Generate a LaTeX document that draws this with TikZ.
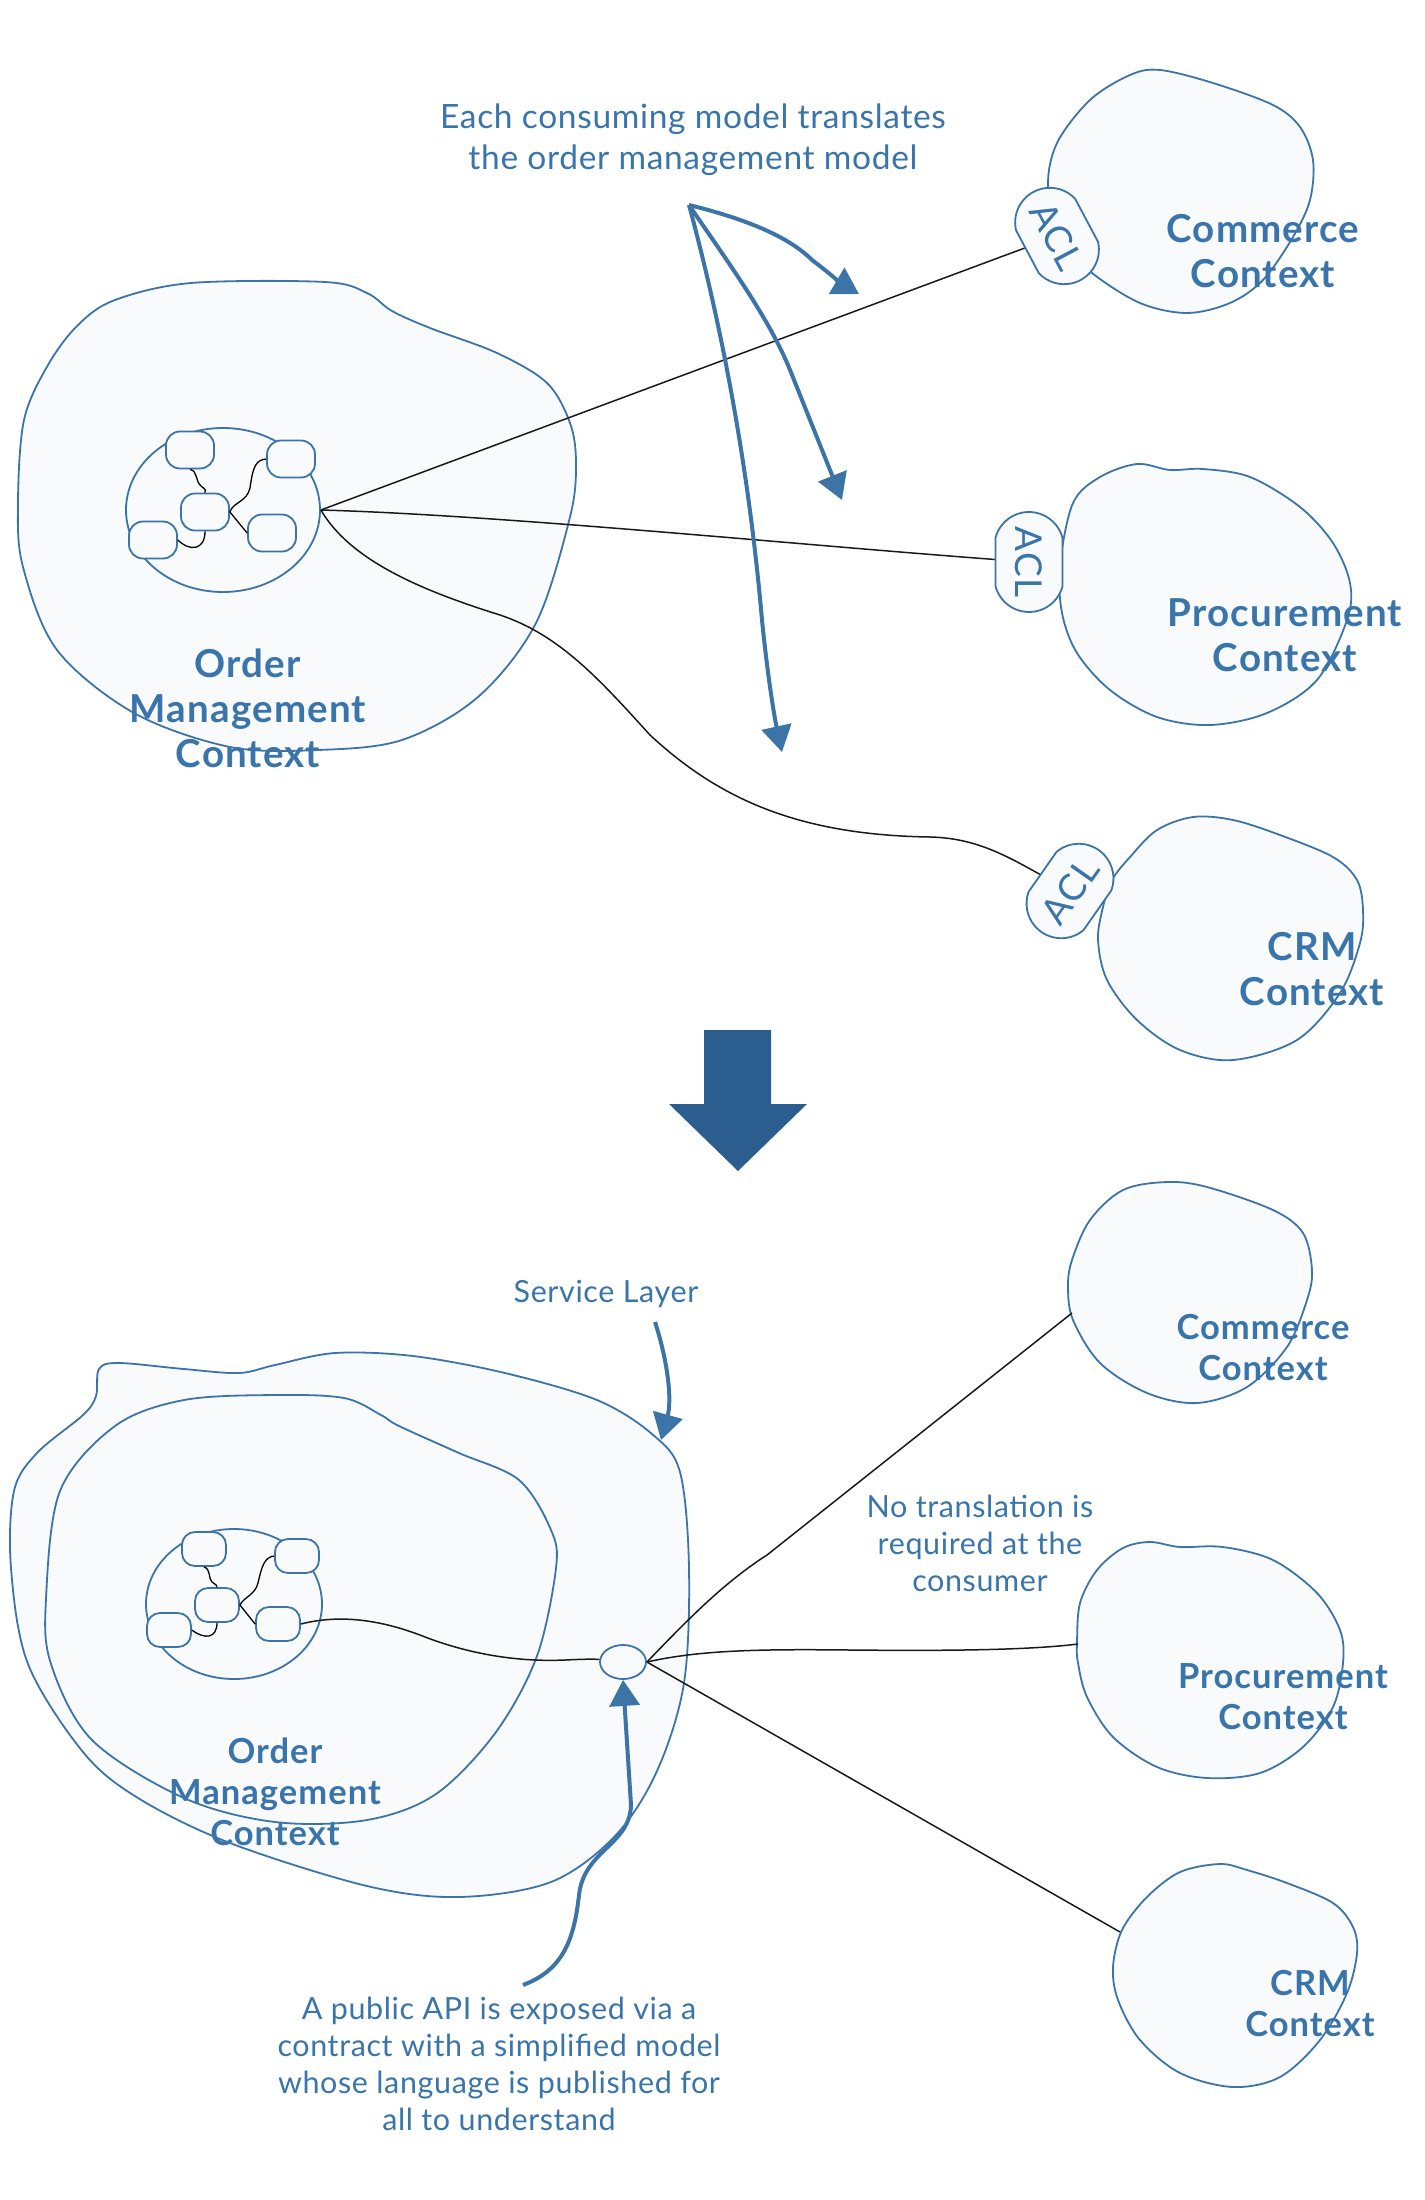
\documentclass[tikz,border=0pt]{standalone}
\usepackage{fontspec}
\setmainfont{Lato}
\newfontfamily\avwide[LetterSpace=3]{Lato}
\newfontfamily\avmid[LetterSpace=2]{Lato}
\usetikzlibrary{arrows.meta,shapes.geometric,shapes.misc}
\definecolor{blobline}{HTML}{3C74A8}
\definecolor{blobfill}{HTML}{F8FAFC}
\definecolor{txtblue}{HTML}{3974AA}
\definecolor{bigblue}{HTML}{2B5D8F}
\begin{document}
\begin{tikzpicture}[x=1pt,y=-1pt,
  blob/.style={draw=blobline, fill=blobfill, line width=1.8pt},
  core/.style={ellipse, draw=blobline, fill=blobfill, line width=1.8pt, inner sep=0pt},
  entity/.style={rectangle, rounded corners=14pt, draw=blobline, fill=blobfill, line width=1.8pt, minimum width=48pt, minimum height=37pt, inner sep=0pt},
  entitysm/.style={entity, rounded corners=13pt, minimum width=44pt, minimum height=34pt},
  link/.style={draw=black, line width=1.3pt},
  conn/.style={draw=black!90, line width=1.5pt},
  acl/.style={rounded rectangle, rounded rectangle arc length=150, draw=blobline, fill=blobfill, line width=1.8pt, minimum width=100pt, minimum height=67pt, inner sep=0pt, text=txtblue, font=\avwide\fontsize{37}{37}\selectfont},
  ctxlabel/.style={text=txtblue, align=center, font=\avwide\bfseries\fontsize{38.5}{45}\selectfont},
  ctxlabelsm/.style={text=txtblue, align=center, font=\avwide\bfseries\fontsize{34.5}{41}\selectfont},
  notebig/.style={text=txtblue, align=center, font=\avmid\fontsize{33.5}{41}\selectfont},
  note/.style={text=txtblue, align=center, font=\avmid\fontsize{30.5}{37}\selectfont},
  notearrow/.style={draw=blobline, line width=4pt, -{Triangle[length=26pt,width=30pt]}},
]
\useasboundingbox (0,0) rectangle (1424,2200);

%================ TOP =================
% Order management blob
\draw[blob] plot[smooth cycle, tension=0.55] coordinates {(115,300) (191,283) (325,282) (367,293) (392,311) (430,328) (497,353) (547,383) (570,423) (576,463) (570,517) (536,623) (478,697) (402,740) (318,750) (230,747) (134,713) (57,650) (23,567) (18,503) (24,420) (48,365) (78,325)};
% Commerce
\draw[blob] plot[smooth cycle, tension=0.55] coordinates {(1048,187) (1057,143) (1090,100) (1130,75) (1160,70) (1213,83) (1273,105) (1300,127) (1313,160) (1310,200) (1293,237) (1263,280) (1230,303) (1187,313) (1140,303) (1092,273) (1060,240)};
% Procurement
\draw[blob] plot[smooth cycle, tension=0.55] coordinates {(1073,503) (1100,477) (1137,464) (1170,470) (1203,469) (1250,477) (1300,507) (1333,543) (1350,583) (1347,620) (1317,680) (1267,713) (1210,725) (1157,717) (1110,690) (1077,653) (1062,613) (1060,565)};
% CRM
\draw[blob] plot[smooth cycle, tension=0.55] coordinates {(1112,880) (1130,857) (1157,830) (1193,817) (1233,820) (1280,835) (1333,857) (1357,880) (1363,910) (1360,943) (1340,993) (1297,1040) (1233,1060) (1180,1050) (1137,1020) (1107,980) (1098,940) (1103,907)};

\node[core, minimum width=194pt, minimum height=164pt] (coreT) at (223,510) {};
\node[entity] (eA) at (190,450) {};
\node[entity] (eB) at (291,459) {};
\node[entity] (eC) at (205,512) {};
\node[entity] (eD) at (153,540) {};
\node[entity] (eE) at (272,533) {};
\draw[link] (eA.south) .. controls (198,471) and (195,481) .. (201,486) .. controls (206,490) and (206,490) .. (eC.north);
\draw[link] (eC.south) .. controls (205,550) and (190,552) .. (eD.east);
\draw[link] (eC.east) .. controls (233,502) and (247,502) .. (250,488) .. controls (253,466) and (256,460) .. (eB.west);
\draw[link] (eC.east) -- (eE.west);

% ACL nodes
\node[acl, rotate=-62] (acl1) at (1057,236) {ACL};
\node[acl, rotate=-90] (acl2) at (1029,562) {ACL};
\node[acl, rotate=55] (acl3) at (1070,891) {ACL};

% connectors
\draw[conn] (coreT.east) -- (acl1);
\draw[conn] (coreT.east) .. controls (500,515) and (800,545) .. (acl2);
\draw[conn] (coreT.east) .. controls (350,560) and (420,590) .. (500,615) .. controls (560,635) and (600,680) .. (650,735) .. controls (720,800) and (800,835) .. (930,837) .. controls (975,838) and (1005,855) .. (acl3);

% labels
\node[ctxlabel] (omcTopL) at (248,708) {Order\\Management\\Context};
\node[ctxlabel] (comTopL) at (1263,251) {Commerce\\Context};
\node[ctxlabel] (procTopL) at (1285,635) {Procurement\\Context};
\node[ctxlabel] (crmTopL) at (1312,969) {CRM\\Context};

% note and arrows
\node[notebig] (noteTop) at (693,140) {Each consuming model translates\\the order management model};
\coordinate (noteSrc) at (689,205);
\coordinate (tip1) at (859,294);
\coordinate (tip2) at (842,500);
\coordinate (tip3) at (782,752);
\draw[notearrow] (noteSrc) .. controls (750,220) and (790,238) .. (812,260) .. controls (828,272) and (842,284) .. (tip1);
\draw[notearrow] (noteSrc) .. controls (730,265) and (770,320) .. (790,370) .. controls (810,420) and (830,470) .. (tip2);
\draw[notearrow] (noteSrc) .. controls (720,320) and (748,460) .. (762,620) .. controls (768,680) and (775,720) .. (tip3);

% big arrow
\fill[bigblue] (704,1030) -- (771,1030) -- (771,1104) -- (807,1104) -- (738,1171) -- (669,1104) -- (704,1104) -- cycle;

%================ BOTTOM =================
\draw[blob] plot[smooth cycle, tension=0.55] coordinates {(99,1369) (119,1363) (184,1369) (239,1373) (275,1365) (335,1353) (413,1356) (505,1373) (597,1400) (652,1434) (680,1472) (689,1568) (684,1683) (657,1771) (615,1836) (551,1882) (459,1897) (367,1886) (230,1843) (138,1798) (83,1752) (28,1664) (11,1568) (14,1491) (37,1453) (83,1415) (96,1396)};
\draw[blob] plot[smooth cycle, tension=0.55] coordinates {(46,1599) (60,1491) (115,1426) (184,1400) (275,1395) (344,1398) (381,1415) (399,1426) (459,1453) (519,1480) (551,1530) (556,1568) (537,1656) (496,1732) (436,1794) (367,1820) (275,1822) (184,1798) (92,1740) (51,1664)};
\draw[blob] plot[smooth cycle, tension=0.55] coordinates {(1068,1287) (1072,1260) (1090,1220) (1123,1190) (1167,1182) (1207,1187) (1273,1210) (1303,1233) (1312,1270) (1307,1300) (1287,1347) (1247,1387) (1197,1403) (1147,1393) (1100,1363) (1073,1320)};
\draw[blob] plot[smooth cycle, tension=0.55] coordinates {(1077,1643) (1080,1603) (1097,1570) (1123,1548) (1150,1542) (1180,1547) (1223,1547) (1273,1560) (1317,1593) (1340,1630) (1343,1663) (1333,1707) (1303,1747) (1260,1773) (1207,1778) (1157,1767) (1113,1737) (1087,1697) (1078,1663)};
\draw[blob] plot[smooth cycle, tension=0.55] coordinates {(1113,1967) (1122,1930) (1147,1897) (1180,1872) (1220,1864) (1247,1870) (1287,1883) (1333,1903) (1353,1927) (1357,1953) (1347,1993) (1320,2040) (1280,2077) (1233,2087) (1180,2073) (1140,2040) (1118,2000)};
\coordinate (comB) at (1072,1313);
\coordinate (procB) at (1078,1644);
\coordinate (crmB) at (1120,1932);

\node[core, minimum width=176pt, minimum height=150pt] (coreB) at (234,1604) {};
\node[entitysm] (fA) at (204,1549) {};
\node[entitysm] (fB) at (297,1556) {};
\node[entitysm] (fC) at (217,1605) {};
\node[entitysm] (fD) at (169,1630) {};
\node[entitysm] (fE) at (278,1624) {};
\draw[link] (fA.south) .. controls (211,1569) and (208,1578) .. (212,1582) .. controls (216,1585) and (217,1585) .. (fC.north);
\draw[link] (fC.south) .. controls (217,1638) and (205,1640) .. (fD.east);
\draw[link] (fC.east) .. controls (244,1597) and (255,1595) .. (258,1583) .. controls (262,1565) and (265,1557) .. (fB.west);
\draw[link] (fC.east) -- (fE.west);

\node[ellipse, draw=blobline, fill=blobfill, line width=1.8pt, minimum width=46pt, minimum height=34pt, inner sep=0pt] (api) at (623,1662) {};

\draw[conn] (fE.east) .. controls (340,1614) and (380,1620) .. (420,1635) .. controls (470,1655) and (520,1662) .. (565,1660) .. controls (585,1659) and (595,1659) .. (api);
\draw[conn] (api.east) .. controls (680,1628) and (720,1585) .. (767,1555) -- (comB);
\draw[conn] (api.east) .. controls (700,1650) and (760,1649) .. (850,1650) .. controls (950,1651) and (1030,1650) .. (procB);
\draw[conn] (api.east) -- (crmB);

\node[ctxlabelsm] (omcBotL) at (275,1792) {Order\\Management\\Context};
\node[ctxlabelsm] (comBotL) at (1263,1348) {Commerce\\Context};
\node[ctxlabelsm] (procBotL) at (1283,1697) {Procurement\\Context};
\node[ctxlabelsm] (crmBotL) at (1310,2004) {CRM\\Context};

\node[note] (slL) at (606,1294) {Service Layer};
\coordinate (slSrc) at (655,1322);
\coordinate (slTip) at (661,1440);
\draw[notearrow] (slSrc) .. controls (668,1362) and (672,1400) .. (slTip);

\node[note] (noTrans) at (980,1543) {No translation is\\required at the\\consumer};

\node[note] (apiNote) at (499,2064) {A public API is exposed via a\\contract with a simplified model\\whose language is published for\\all to understand};
\coordinate (apiSrc) at (523,1985);
\draw[notearrow] (apiSrc) .. controls (563,1970) and (574,1940) .. (579,1895) .. controls (584,1850) and (630,1845) .. (631,1805) -- (api.south);
\end{tikzpicture}
\end{document}
